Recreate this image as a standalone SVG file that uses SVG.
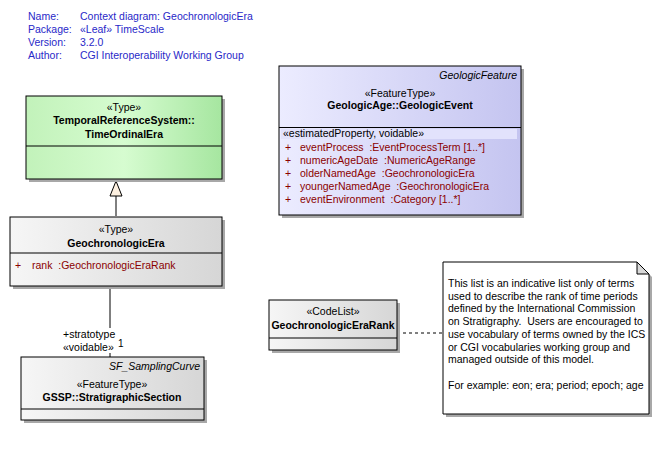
<svg xmlns="http://www.w3.org/2000/svg" width="659" height="455" viewBox="0 0 659 455">
  <defs>
    <linearGradient id="gGreen" x1="0" y1="0" x2="1" y2="0">
      <stop offset="0" stop-color="#c2f2ba"/>
      <stop offset="0.5" stop-color="#d6fcd0"/>
      <stop offset="1" stop-color="#a6e6a0"/>
    </linearGradient>
    <linearGradient id="gGray" x1="0" y1="0" x2="1" y2="0">
      <stop offset="0" stop-color="#f6f6f6"/>
      <stop offset="1" stop-color="#d6d6d6"/>
    </linearGradient>
    <linearGradient id="gBlue" x1="0" y1="0" x2="1" y2="0">
      <stop offset="0" stop-color="#ececff"/>
      <stop offset="1" stop-color="#c4c4f0"/>
    </linearGradient>
  </defs>
  <style>
    text { font-family: "Liberation Sans", Arial, sans-serif; font-size: 10.5px; fill: #000; white-space: pre; }
    .hdr { fill: #2828c8; }
    .c { text-anchor: middle; }
    .b { font-weight: bold; }
    .i { font-style: italic; }
    .r { text-anchor: end; }
    .attr { fill: #8b0000; }
    .box { stroke: #000; stroke-width: 1; }
    .shadow { fill: #a8a8a8; }
    .line { stroke: #000; stroke-width: 1; fill: none; }
    .dash { stroke: #000; stroke-width: 1; fill: none; stroke-dasharray: 3 3; }
  </style>
  <rect width="659" height="455" fill="#fff"/>

  <!-- diagram header -->
  <g id="header">
    <text class="hdr" x="28" y="20">Name:</text>
    <text class="hdr" x="80" y="20">Context diagram: GeochronologicEra</text>
    <text class="hdr" x="28" y="33">Package:</text>
    <text class="hdr" x="80" y="33">«Leaf» TimeScale</text>
    <text class="hdr" x="28" y="46">Version:</text>
    <text class="hdr" x="80" y="46">3.2.0</text>
    <text class="hdr" x="28" y="59">Author:</text>
    <text class="hdr" x="80" y="59">CGI Interoperability Working Group</text>
  </g>

  <!-- connectors -->
  <g id="connectors">
    <!-- generalization: GeochronologicEra -> TimeOrdinalEra -->
    <line class="line" x1="116" y1="196" x2="116" y2="216"/>
    <polygon points="116,181 110,196 122,196" fill="#fdf0e0" stroke="#000"/>
    <!-- association: GeochronologicEra -> StratigraphicSection -->
    <line class="line" x1="110" y1="286" x2="110" y2="328"/>
    <line class="line" x1="110" y1="353" x2="110" y2="357"/>
    <text x="63" y="338">+stratotype</text>
    <text x="63" y="351">«voidable»</text>
    <text x="118" y="347" style="font-size:10px">1</text>
    <!-- note link -->
    <line class="dash" x1="397" y1="333" x2="443" y2="333"/>
  </g>

  <!-- TimeOrdinalEra -->
  <g id="TimeOrdinalEra">
    <rect class="shadow" x="29" y="99" width="196" height="83"/>
    <rect class="box" x="26" y="96" width="196" height="83" fill="url(#gGreen)"/>
    <line class="line" x1="26" y1="146" x2="222" y2="146"/>
    <text class="c" x="124" y="111">«Type»</text>
    <text class="c b" x="124" y="124">TemporalReferenceSystem::</text>
    <text class="c b" x="124" y="138">TimeOrdinalEra</text>
  </g>

  <!-- GeochronologicEra -->
  <g id="GeochronologicEra">
    <rect class="shadow" x="13" y="220" width="212" height="69"/>
    <rect class="box" x="10" y="217" width="212" height="69" fill="url(#gGray)"/>
    <line class="line" x1="10" y1="253" x2="222" y2="253"/>
    <text class="c" x="116" y="233">«Type»</text>
    <text class="c b" x="116" y="247">GeochronologicEra</text>
    <text class="attr" x="15" y="269">+</text>
    <text class="attr" x="32" y="269">rank  :GeochronologicEraRank</text>
  </g>

  <!-- StratigraphicSection -->
  <g id="StratigraphicSection">
    <rect class="shadow" x="24" y="360" width="183" height="63"/>
    <rect class="box" x="21" y="357" width="183" height="63" fill="url(#gGray)"/>
    <line class="line" x1="21" y1="409" x2="204" y2="409"/>
    <text class="r i" x="200" y="370">SF_SamplingCurve</text>
    <text class="c" x="112" y="388">«FeatureType»</text>
    <text class="c b" x="112" y="401">GSSP::StratigraphicSection</text>
  </g>

  <!-- GeologicEvent -->
  <g id="GeologicEvent">
    <rect class="shadow" x="282" y="69" width="242" height="149"/>
    <rect class="box" x="279" y="66" width="242" height="149" fill="url(#gBlue)"/>
    <line class="line" x1="279" y1="127.5" x2="521" y2="127.5"/>
    <rect x="281" y="129" width="236" height="10" fill="#e2e2fc"/>
    <text class="r i" x="517" y="79">GeologicFeature</text>
    <text class="c" x="400" y="97">«FeatureType»</text>
    <text class="c b" x="400" y="109">GeologicAge::GeologicEvent</text>
    <text x="283" y="137">«estimatedProperty, voidable»</text>
    <text class="attr" x="285" y="151">+</text>
    <text class="attr" x="300" y="151">eventProcess  :EventProcessTerm [1..*]</text>
    <text class="attr" x="285" y="164">+</text>
    <text class="attr" x="300" y="164">numericAgeDate  :NumericAgeRange</text>
    <text class="attr" x="285" y="177">+</text>
    <text class="attr" x="300" y="177">olderNamedAge  :GeochronologicEra</text>
    <text class="attr" x="285" y="190">+</text>
    <text class="attr" x="300" y="190">youngerNamedAge  :GeochronologicEra</text>
    <text class="attr" x="285" y="203">+</text>
    <text class="attr" x="300" y="203">eventEnvironment  :Category [1..*]</text>
  </g>

  <!-- GeochronologicEraRank -->
  <g id="GeochronologicEraRank">
    <rect class="shadow" x="272" y="303" width="128" height="50"/>
    <rect class="box" x="269" y="300" width="128" height="50" fill="url(#gGray)"/>
    <line class="line" x1="269" y1="338" x2="397" y2="338"/>
    <text class="c" x="333" y="315">«CodeList»</text>
    <text class="c b" x="333" y="329">GeochronologicEraRank</text>
  </g>

  <!-- note -->
  <g id="note">
    <polygon class="shadow" points="446,265 640,265 652,277 652,417 446,417"/>
    <polygon class="box" points="443,262 637,262 649,274 649,414 443,414" fill="#fff"/>
    <polygon points="637,262 637,274 649,274" fill="#d8d8d8" stroke="#000"/>
    <text x="448" y="287">This list is an indicative list only of terms</text>
    <text x="448" y="300">used to describe the rank of time periods</text>
    <text x="448" y="312">defined by the International Commission</text>
    <text x="448" y="325">on Stratigraphy.  Users are encouraged to</text>
    <text x="448" y="338">use vocabulary of terms owned by the ICS</text>
    <text x="448" y="351">or CGI vocabularies working group and</text>
    <text x="448" y="363">managed outside of this model.</text>
    <text x="448" y="389">For example: eon; era; period; epoch; age</text>
  </g>
</svg>
